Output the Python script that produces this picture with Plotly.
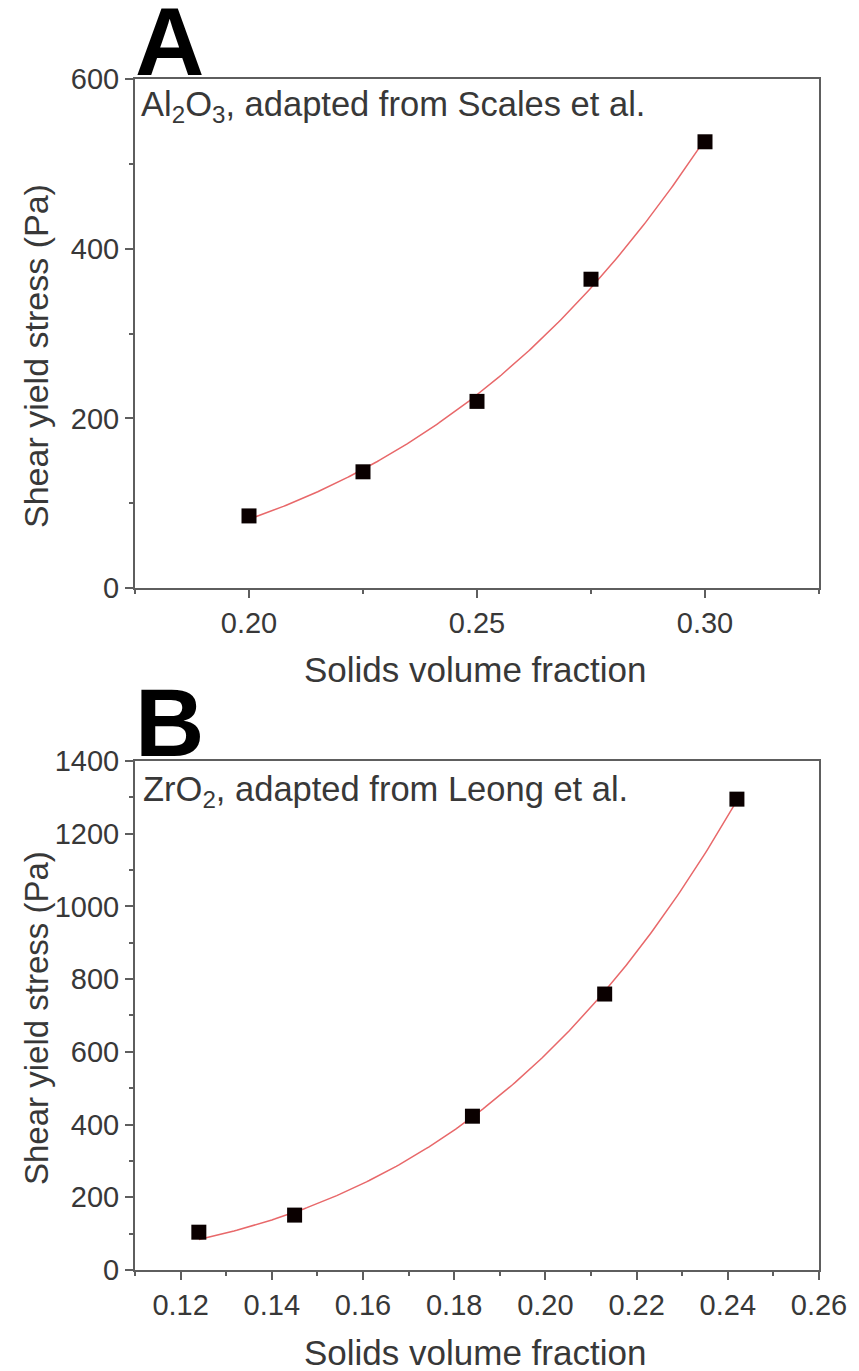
import numpy as np
import plotly.graph_objects as go

# Panel A: Al2O3 suspensions
phi_a = [0.200, 0.225, 0.250, 0.275, 0.300]
tau_a = [85, 137, 220, 364, 526]

# Panel B: ZrO2 suspensions
phi_b = [0.124, 0.145, 0.184, 0.213, 0.242]
tau_b = [104, 151, 423, 759, 1295]


def power_fit(x, y, n=200):
    """Least-squares power-law fit y = k*x**m (residuals in y)."""
    x = np.asarray(x, float)
    y = np.asarray(y, float)
    lx = np.log(x)
    m, ln_k = np.polyfit(lx, np.log(y), 1)
    k = np.exp(ln_k)
    for _ in range(60):  # Gauss-Newton refinement
        f = k * np.exp(m * lx)
        J = np.column_stack([np.exp(m * lx), k * lx * np.exp(m * lx)])
        step, *_ = np.linalg.lstsq(J, y - f, rcond=None)
        k += step[0]
        m += step[1]
    xs = np.linspace(x.min(), x.max(), n)
    return xs, k * xs ** m


FONT = "Liberation Sans, Arial, sans-serif"
AXIS_COLOR = "#5e5e5e"
TEXT_COLOR = "#383838"
FIT_COLOR = "#e8686a"

fig = go.Figure()

for (px, py, xa, ya) in [(phi_a, tau_a, "x", "y"), (phi_b, tau_b, "x2", "y2")]:
    fx, fy = power_fit(px, py)
    fig.add_trace(go.Scatter(x=fx, y=fy, mode="lines", xaxis=xa, yaxis=ya,
                             line=dict(color=FIT_COLOR, width=1.5),
                             showlegend=False, hoverinfo="skip"))
    fig.add_trace(go.Scatter(x=px, y=py, mode="markers", xaxis=xa, yaxis=ya,
                             marker=dict(symbol="square", size=15, color="#0a0000",
                                         line=dict(width=0)),
                             showlegend=False))

axis_common = dict(
    showline=True, linecolor=AXIS_COLOR, linewidth=2, mirror=True,
    ticks="outside", ticklen=8, tickwidth=2, tickcolor=AXIS_COLOR,
    showgrid=False, zeroline=False,
    tickfont=dict(family=FONT, size=29, color=TEXT_COLOR),
)
minor_common = dict(ticks="outside", ticklen=4, tickwidth=2, tickcolor=AXIS_COLOR, showgrid=False)

fig.update_layout(
    width=859, height=1371,
    margin=dict(l=135, r=33, t=79, b=101),
    paper_bgcolor="white", plot_bgcolor="white",
    font=dict(family=FONT, color=TEXT_COLOR),
    xaxis=dict(axis_common, domain=[0, 1], anchor="y", range=[0.175, 0.325],
               tickvals=[0.20, 0.25, 0.30], ticktext=["0.20", "0.25", "0.30"],
               minor=dict(minor_common, tickvals=[0.175, 0.225, 0.275, 0.325])),
    yaxis=dict(axis_common, domain=[0.5726, 1.0], anchor="x", range=[0, 600],
               tickvals=[0, 200, 400, 600],
               minor=dict(minor_common, tickvals=[100, 300, 500])),
    xaxis2=dict(axis_common, domain=[0, 1], anchor="y2", range=[0.11, 0.26],
                tickvals=[0.12, 0.14, 0.16, 0.18, 0.20, 0.22, 0.24, 0.26],
                ticktext=["0.12", "0.14", "0.16", "0.18", "0.20", "0.22", "0.24", "0.26"],
                minor=dict(minor_common, tickvals=[0.11, 0.13, 0.15, 0.17, 0.19, 0.21, 0.23, 0.25])),
    yaxis2=dict(axis_common, domain=[0.0, 0.4274], anchor="x2", range=[0, 1400],
                tickvals=[0, 200, 400, 600, 800, 1000, 1200, 1400],
                minor=dict(minor_common, tickvals=[100, 300, 500, 700, 900, 1100, 1300])),
)

plot_w = 859 - 135 - 33
plot_h = 1371 - 79 - 101


def px_x(x):
    return (x - 135) / plot_w


def px_y(y):
    return (1371 - 101 - y) / plot_h


ann = [
    dict(text="<b>A</b>", x=px_x(133), y=px_y(97), xanchor="left", yanchor="bottom",
         font=dict(family=FONT, size=96, color="black")),
    dict(text="<b>B</b>", x=px_x(133), y=px_y(778), xanchor="left", yanchor="bottom",
         font=dict(family=FONT, size=96, color="black")),
    dict(text="Al<sub>2</sub>O<sub>3</sub>, adapted from Scales et al.", x=px_x(139), y=px_y(106),
         xanchor="left", yanchor="middle", font=dict(family=FONT, size=34.5, color=TEXT_COLOR)),
    dict(text="ZrO<sub>2</sub>, adapted from Leong et al.", x=px_x(141), y=px_y(791),
         xanchor="left", yanchor="middle", font=dict(family=FONT, size=34.5, color=TEXT_COLOR)),
    dict(text="Shear yield stress (Pa)", x=px_x(35), y=px_y(356), textangle=-90,
         xanchor="center", yanchor="middle", font=dict(family=FONT, size=34, color=TEXT_COLOR)),
    dict(text="Shear yield stress (Pa)", x=px_x(35), y=px_y(1018), textangle=-90,
         xanchor="center", yanchor="middle", font=dict(family=FONT, size=33, color=TEXT_COLOR)),
    dict(text="Solids volume fraction", x=px_x(478), y=px_y(669),
         xanchor="center", yanchor="middle", font=dict(family=FONT, size=35, color=TEXT_COLOR)),
    dict(text="Solids volume fraction", x=px_x(478), y=px_y(1352),
         xanchor="center", yanchor="middle", font=dict(family=FONT, size=35, color=TEXT_COLOR)),
]
for a in ann:
    a.update(xref="paper", yref="paper", showarrow=False)
fig.update_layout(annotations=ann)

fig.write_html("out.html")
